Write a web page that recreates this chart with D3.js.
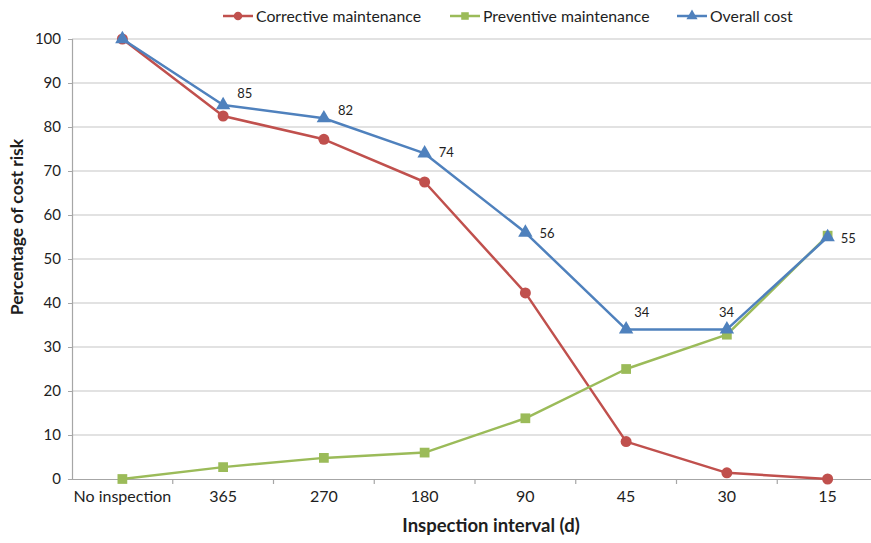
<!DOCTYPE html>
<html>
<head>
<meta charset="utf-8">
<script src="https://cdn.jsdelivr.net/npm/d3@7"></script>
<style>
  html, body { margin: 0; padding: 0; background: #fff; }
  svg { display: block; font-family: Lato, "Open Sans", sans-serif; }
</style>
</head>
<body>
<svg id="chart" width="871" height="543"></svg>
<script>
// Inspection intervals (days) on the category axis
const categories = ["No inspection", "365", "270", "180", "90", "45", "30", "15"];
// Cost risk, percent
const corrective = [100, 82.5, 77.2, 67.5, 42.3, 8.5, 1.4, 0];
const preventive = [0, 2.7, 4.8, 6.0, 13.8, 25.0, 32.8, 55.3];
const overall    = [100, 85, 82, 74, 56, 34, 34, 55];
const overallLabels = ["", "85", "82", "74", "56", "34", "34", "55"];
const yTicks = [0, 10, 20, 30, 40, 50, 60, 70, 80, 90, 100];

const svg = d3.select("#chart");
const plotLeft = 72, plotRight = 878, plotTop = 39, plotBottom = 479;

const x = d3.scaleBand().domain(categories).range([plotLeft, plotRight]);
const y = d3.scaleLinear().domain([0, 100]).range([plotBottom, plotTop]);
const cx = c => x(c) + x.bandwidth() / 2;

const axisColor = "#a6a6a6";
const textColor = "#1e1e1e";

// Horizontal gridlines
svg.append("g")
  .selectAll("line")
  .data(yTicks.filter(d => d > 0))
  .join("line")
  .attr("x1", plotLeft).attr("x2", plotRight)
  .attr("y1", d => y(d)).attr("y2", d => y(d))
  .attr("stroke", "#d9d9d9").attr("stroke-width", 1.5);

// Y axis
const yAxis = svg.append("g")
  .attr("transform", `translate(${plotLeft},0)`)
  .call(d3.axisLeft(y).tickValues(yTicks).tickSize(4).tickPadding(7));
yAxis.select(".domain").attr("stroke", axisColor).attr("stroke-width", 1.2);
yAxis.selectAll(".tick line").attr("stroke", axisColor);
yAxis.selectAll("text").attr("font-size", 15).attr("fill", textColor)
  .attr("font-family", "Lato, sans-serif");

// X axis: category labels, tick marks between categories
const xAxis = svg.append("g")
  .attr("transform", `translate(0,${plotBottom})`)
  .call(d3.axisBottom(x).tickSize(0).tickPadding(12));
xAxis.select(".domain").attr("stroke", axisColor).attr("stroke-width", 1.2);
xAxis.selectAll("text").attr("font-size", 16).attr("fill", textColor)
  .attr("font-family", "Lato, sans-serif");
svg.append("g")
  .selectAll("line")
  .data(categories.slice(1))
  .join("line")
  .attr("x1", d => x(d)).attr("x2", d => x(d))
  .attr("y1", plotBottom).attr("y2", plotBottom + 5)
  .attr("stroke", axisColor).attr("stroke-width", 1.2);

// Axis titles
svg.append("text")
  .attr("x", 491).attr("y", 532)
  .attr("text-anchor", "middle")
  .attr("font-size", 18.5).attr("font-weight", "bold").attr("fill", textColor)
  .text("Inspection interval (d)");
svg.append("text")
  .attr("transform", "translate(23,227) rotate(-90)")
  .attr("text-anchor", "middle")
  .attr("font-size", 17.5).attr("font-weight", "bold").attr("fill", textColor)
  .text("Percentage of cost risk");

const series = [
  { name: "Corrective maintenance", values: corrective, color: "#c0504d", shape: d3.symbolCircle, size: 95 },
  { name: "Preventive maintenance", values: preventive, color: "#9bbb59", shape: d3.symbolSquare, size: 95 },
  { name: "Overall cost", values: overall, color: "#4f81bd", shape: d3.symbolTriangle, size: 90 }
];

const line = d3.line().x((d, i) => cx(categories[i])).y(d => y(d));

series.forEach(s => {
  const g = svg.append("g");
  g.append("path")
    .datum(s.values)
    .attr("d", line)
    .attr("fill", "none")
    .attr("stroke", s.color)
    .attr("stroke-width", 2.5)
    .attr("stroke-linejoin", "round");
  g.selectAll("path.m")
    .data(s.values)
    .join("path")
    .attr("class", "m")
    .attr("transform", (d, i) => `translate(${cx(categories[i])},${y(d)})`)
    .attr("d", d3.symbol().type(s.shape).size(s.size))
    .attr("fill", s.color);
});

// Value labels on the overall cost series
const labelOffsets = [[0, 0], [14, -7], [14, -3], [14, 4], [14, 5], [8, -12], [-8, -12], [13, 6]];
svg.append("g")
  .selectAll("text")
  .data(overall)
  .join("text")
  .attr("x", (d, i) => cx(categories[i]) + labelOffsets[i][0])
  .attr("y", (d, i) => y(d) + labelOffsets[i][1])
  .attr("font-size", 13).attr("fill", textColor)
  .text((d, i) => overallLabels[i]);

// Legend
const legendItems = [
  { s: series[0], x: 223 },
  { s: series[1], x: 450 },
  { s: series[2], x: 677 }
];
const lg = svg.append("g");
legendItems.forEach(({ s, x: lx }) => {
  const ly = 16;
  lg.append("line")
    .attr("x1", lx).attr("x2", lx + 30)
    .attr("y1", ly).attr("y2", ly)
    .attr("stroke", s.color).attr("stroke-width", 2.5);
  lg.append("path")
    .attr("transform", `translate(${lx + 15},${ly})`)
    .attr("d", d3.symbol().type(s.shape).size(s.size * 0.6))
    .attr("fill", s.color);
  lg.append("text")
    .attr("x", lx + 33).attr("y", ly + 5.5)
    .attr("font-size", 15.8).attr("fill", textColor)
    .text(s.name);
});
</script>
</body>
</html>
